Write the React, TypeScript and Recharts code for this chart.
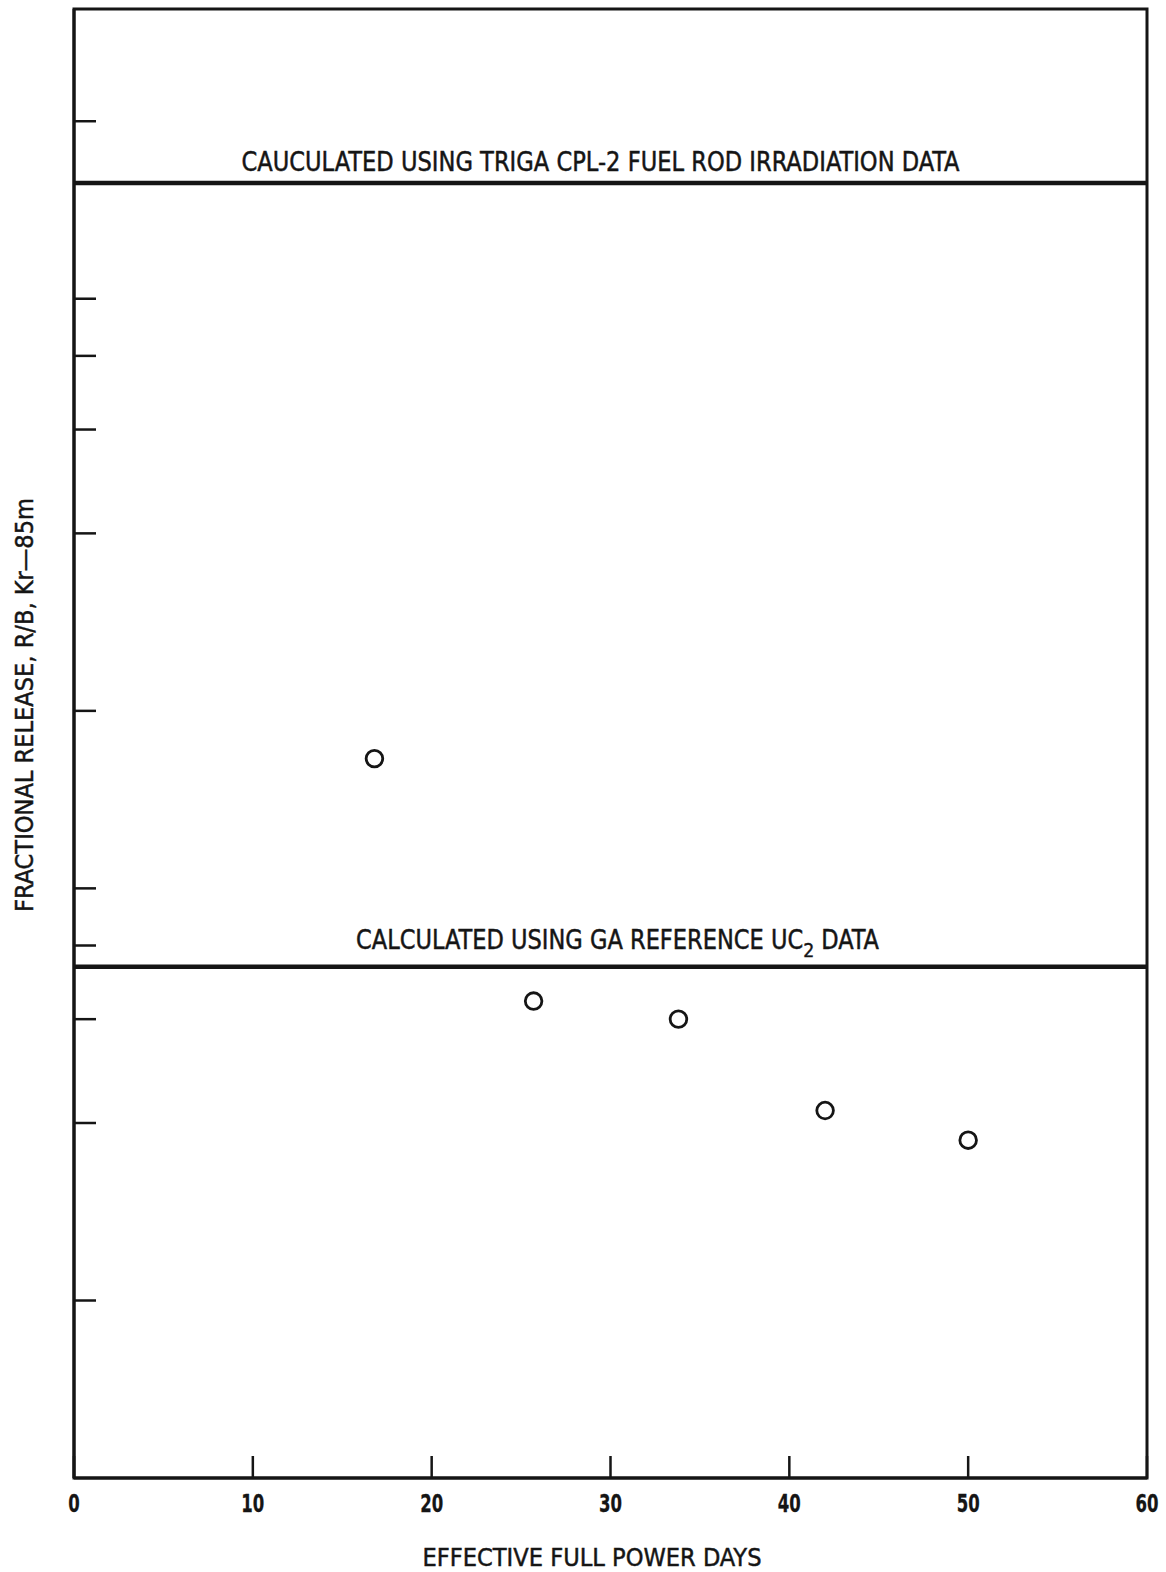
import { ReferenceArea, ReferenceLine, Scatter, ScatterChart, XAxis, YAxis } from "recharts";

// Kr-85m fractional release vs. effective full power days
const days = [16.8, 25.7, 33.8, 42.0, 50.0];
const release = [8.3e-5, 3.22e-5, 3.0e-5, 2.1e-5, 1.87e-5];

const xTicks = [0, 10, 20, 30, 40, 50, 60];
const yTicks = [1e-5, 2e-5, 3e-5, 4e-5, 5e-5, 1e-4, 2e-4, 3e-4, 4e-4, 5e-4, 1e-3];

const trigaLevel = 7.86e-4;
const gaLevel = 3.68e-5;

const xDomain = [0, 60];
const yDomain = [5e-6, 1.55e-3];

const points = days.map((d, i) => ({ d, r: release[i] }));

const INK = "#151515";
const FONT = "'Liberation Sans Narrow', 'DejaVu Sans Condensed', 'Liberation Sans', sans-serif";

// shared look for all the lettering: condensed, slightly heavy
const letter = { fontFamily: FONT, fill: INK, stroke: INK, strokeWidth: 0.45, lengthAdjust: "spacingAndGlyphs" } as const;

function XTick({ x, y, payload }: any) {
  const s = String(payload.value);
  return (
    <g>
      <line x1={x} x2={x} y1={y} y2={y - 22} stroke={INK} strokeWidth={2.5} />
      <text {...letter} x={x} y={y + 34} textAnchor="middle" fontSize={25} fontWeight={700} strokeWidth={0.3}
        textLength={s.length * 11.5}>
        {s}
      </text>
    </g>
  );
}

function YTick({ x, y }: any) {
  return <line x1={x} x2={x + 22} y1={y} y2={y} stroke={INK} strokeWidth={2.5} />;
}

function Ring({ cx, cy }: any) {
  return <circle cx={cx} cy={cy} r={8.3} fill="#fff" stroke={INK} strokeWidth={2.8} />;
}

function TrigaLabel({ viewBox }: any) {
  const cx = viewBox.x + viewBox.width / 2 - 10;
  return (
    <text {...letter} x={cx} y={viewBox.y - 12} textAnchor="middle" fontSize={26} textLength={718}>
      CAUCULATED USING TRIGA CPL-2 FUEL ROD IRRADIATION DATA
    </text>
  );
}

function GaLabel({ viewBox }: any) {
  const cx = viewBox.x + viewBox.width / 2 + 7;
  return (
    <text {...letter} x={cx} y={viewBox.y - 18} textAnchor="middle" fontSize={26} textLength={523}>
      CALCULATED USING GA REFERENCE UC
      <tspan dy={8} fontSize={20}>2</tspan>
      <tspan dy={-8}> DATA</tspan>
    </text>
  );
}

export default function App() {
  return (
    <div style={{ position: "absolute", left: 0, top: 0, background: "#fff" }}>
      <ScatterChart width={1166} height={1572} margin={{ top: 9, right: 19, bottom: 0, left: 0 }}>
        <XAxis
          type="number"
          dataKey="d"
          domain={xDomain}
          ticks={xTicks}
          interval={0}
          height={94}
          tickSize={0}
          tickMargin={0}
          tickLine={false}
          tick={<XTick />}
          axisLine={{ stroke: INK, strokeWidth: 3 }}
          allowDataOverflow
          label={{
            content: ({ viewBox }: any) => (
              <text {...letter} x={592} y={viewBox.y + 88} textAnchor="middle" fontSize={25} textLength={339}>
                EFFECTIVE FULL POWER DAYS
              </text>
            ),
          }}
        />
        <YAxis
          type="number"
          dataKey="r"
          scale="log"
          domain={yDomain}
          ticks={yTicks}
          interval={0}
          width={74}
          tickSize={0}
          tickMargin={0}
          tickLine={false}
          tick={<YTick />}
          axisLine={{ stroke: INK, strokeWidth: 3 }}
          allowDataOverflow
          label={{
            content: () => (
              <text {...letter} x={33} y={705} transform="rotate(-90 33 705)" textAnchor="middle" fontSize={25}
                textLength={414}>
                FRACTIONAL RELEASE, R/B, Kr—85m
              </text>
            ),
          }}
        />
        <ReferenceArea x1={xDomain[0]} x2={xDomain[1]} y1={yDomain[0]} y2={yDomain[1]} fill="none" stroke={INK}
          strokeWidth={3} />
        <ReferenceLine y={trigaLevel} stroke={INK} strokeWidth={4.5} label={<TrigaLabel />} />
        <ReferenceLine y={gaLevel} stroke={INK} strokeWidth={4.5} label={<GaLabel />} />
        <Scatter data={points} shape={<Ring />} isAnimationActive={false} />
      </ScatterChart>
    </div>
  );
}
